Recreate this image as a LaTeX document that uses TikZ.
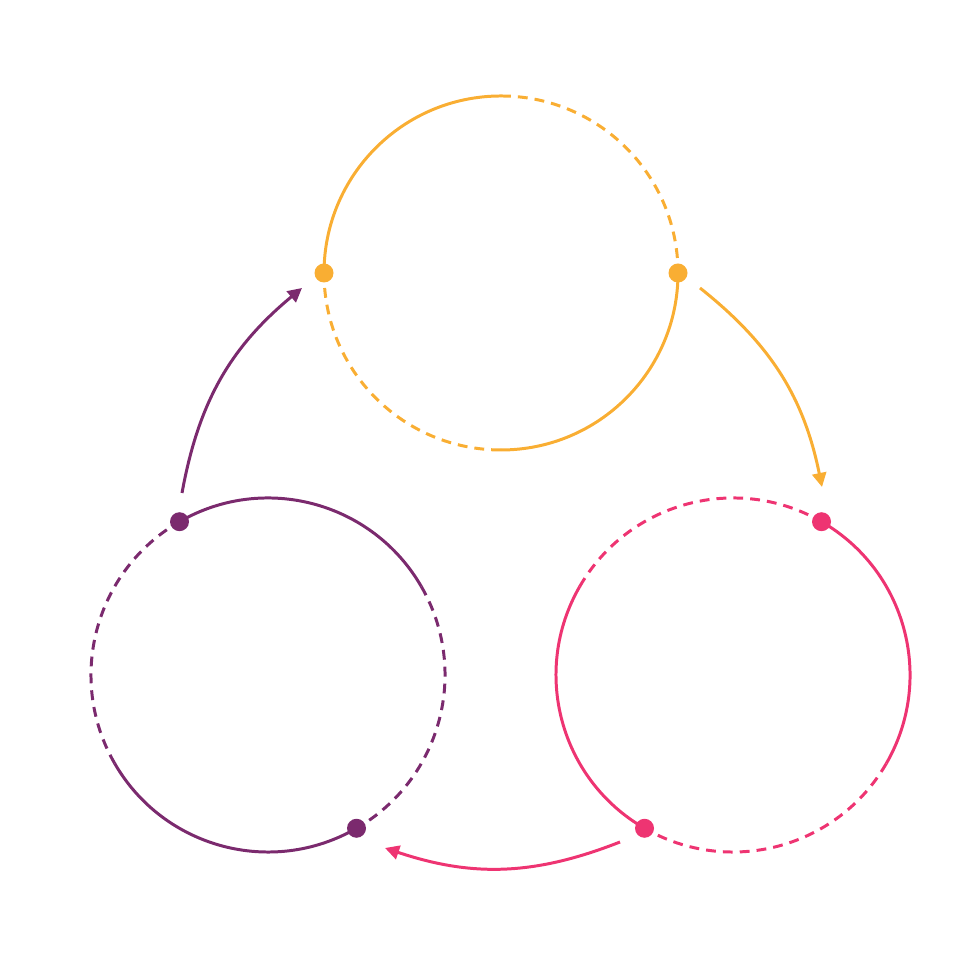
\documentclass[tikz,border=0pt]{standalone}
\usetikzlibrary{arrows.meta,calc}
\definecolor{cor}{HTML}{F9AE33}
\definecolor{cpk}{HTML}{EE3472}
\definecolor{cpu}{HTML}{7B2A6E}
\tikzset{ring/.style={line width=0.85pt},
 dsh/.style={ring,dash pattern=on 2.8pt off 2pt},
 arr/.style={line width=0.85pt,-{Triangle[length=4pt,width=4pt]}},
 dotm/.style={circle,inner sep=0pt,minimum size=5.4pt}}
\newcommand{\myarc}[5]{\draw[#1] (#2)++(#3:177) arc[start angle=#3,end angle=#4,radius=177];}
\begin{document}
\begin{tikzpicture}[x=0.01cm,y=0.01cm]
\useasboundingbox (0,0) rectangle (980,980);
\coordinate (O) at (501,707);
\coordinate (P) at (733,305);
\coordinate (U) at (268,305);
% orange
\myarc{ring,cor}{O}{180}{90}{}
\myarc{dsh,cor}{O}{90}{0}{}
\myarc{ring,cor}{O}{0}{-90}{}
\myarc{dsh,cor}{O}{-90}{-180}{}
% pink
\myarc{ring,cpk}{P}{60}{-30}{}
\myarc{dsh,cpk}{P}{-30}{-120}{}
\myarc{ring,cpk}{P}{240}{150}{}
\myarc{dsh,cpk}{P}{150}{60}{}
% purple
\myarc{ring,cpu}{U}{120}{30}{}
\myarc{dsh,cpu}{U}{30}{-60}{}
\myarc{ring,cpu}{U}{-60}{-150}{}
\myarc{dsh,cpu}{U}{-150}{-240}{}
% dots
\node[dotm,fill=cor] (o1) at ($(O)+(180:177)$) {};
\node[dotm,fill=cor] (o2) at ($(O)+(0:177)$) {};
\node[dotm,fill=cpk] (p1) at ($(P)+(60:177)$) {};
\node[dotm,fill=cpk] (p2) at ($(P)+(240:177)$) {};
\node[dotm,fill=cpu] (u1) at ($(U)+(120:177)$) {};
\node[dotm,fill=cpu] (u2) at ($(U)+(-60:177)$) {};
% arrows
\coordinate (a1) at (700,692); \coordinate (b1) at (822,493);
\coordinate (a2) at (620,138); \coordinate (b2) at (385,132);
\coordinate (a3) at (182,487); \coordinate (b3) at (302,692);
\draw[arr,cor] (a1) to[bend left=20] (b1);
\draw[arr,cpk] (a2) to[bend left=20] (b2);
\draw[arr,cpu] (a3) to[bend left=20] (b3);
\end{tikzpicture}
\end{document}
